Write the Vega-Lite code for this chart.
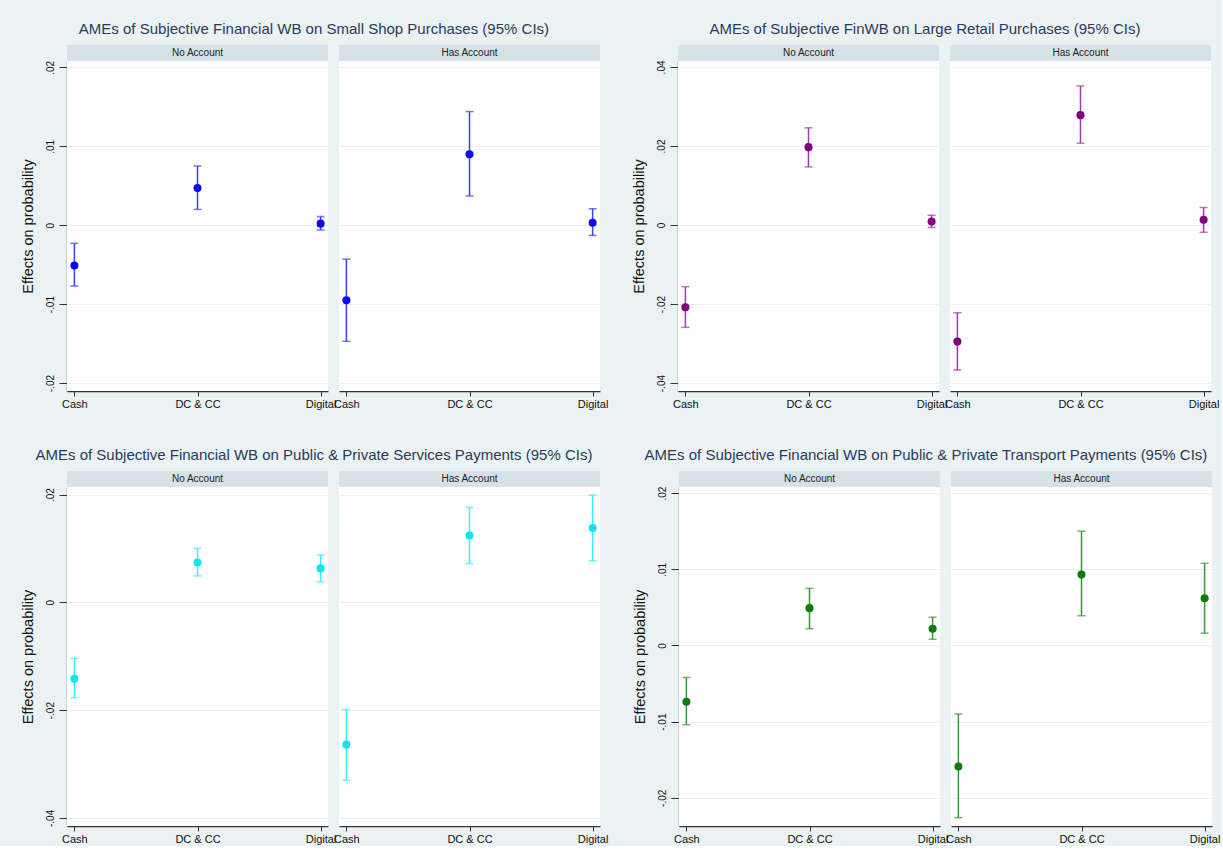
{
  "$schema": "https://vega.github.io/schema/vega-lite/v6.json",
  "padding": {"left": 20, "top": 21, "right": 2, "bottom": 2},
  "datasets": {
    "ames": [
      {"graph": "shop", "account": "No Account", "cat": "Cash", "est": -0.0051, "lo": -0.0077, "hi": -0.0023},
      {"graph": "shop", "account": "No Account", "cat": "DC & CC", "est": 0.0047, "lo": 0.0020, "hi": 0.0075},
      {"graph": "shop", "account": "No Account", "cat": "Digital", "est": 0.0002, "lo": -0.0006, "hi": 0.0011},
      {"graph": "shop", "account": "Has Account", "cat": "Cash", "est": -0.0095, "lo": -0.0147, "hi": -0.0043},
      {"graph": "shop", "account": "Has Account", "cat": "DC & CC", "est": 0.0090, "lo": 0.0037, "hi": 0.0144},
      {"graph": "shop", "account": "Has Account", "cat": "Digital", "est": 0.0003, "lo": -0.0013, "hi": 0.0021},
      {"graph": "retail", "account": "No Account", "cat": "Cash", "est": -0.0208, "lo": -0.0259, "hi": -0.0156},
      {"graph": "retail", "account": "No Account", "cat": "DC & CC", "est": 0.0197, "lo": 0.0147, "hi": 0.0246},
      {"graph": "retail", "account": "No Account", "cat": "Digital", "est": 0.0009, "lo": -0.0006, "hi": 0.0025},
      {"graph": "retail", "account": "Has Account", "cat": "Cash", "est": -0.0295, "lo": -0.0367, "hi": -0.0222},
      {"graph": "retail", "account": "Has Account", "cat": "DC & CC", "est": 0.0278, "lo": 0.0207, "hi": 0.0352},
      {"graph": "retail", "account": "Has Account", "cat": "Digital", "est": 0.0013, "lo": -0.0018, "hi": 0.0044},
      {"graph": "services", "account": "No Account", "cat": "Cash", "est": -0.0142, "lo": -0.0177, "hi": -0.0104},
      {"graph": "services", "account": "No Account", "cat": "DC & CC", "est": 0.0074, "lo": 0.0049, "hi": 0.0100},
      {"graph": "services", "account": "No Account", "cat": "Digital", "est": 0.0063, "lo": 0.0038, "hi": 0.0088},
      {"graph": "services", "account": "Has Account", "cat": "Cash", "est": -0.0264, "lo": -0.0330, "hi": -0.0199},
      {"graph": "services", "account": "Has Account", "cat": "DC & CC", "est": 0.0124, "lo": 0.0072, "hi": 0.0176},
      {"graph": "services", "account": "Has Account", "cat": "Digital", "est": 0.0138, "lo": 0.0077, "hi": 0.0199},
      {"graph": "transport", "account": "No Account", "cat": "Cash", "est": -0.0074, "lo": -0.0104, "hi": -0.0042},
      {"graph": "transport", "account": "No Account", "cat": "DC & CC", "est": 0.0049, "lo": 0.0022, "hi": 0.0075},
      {"graph": "transport", "account": "No Account", "cat": "Digital", "est": 0.0022, "lo": 0.0008, "hi": 0.0037},
      {"graph": "transport", "account": "Has Account", "cat": "Cash", "est": -0.0159, "lo": -0.0226, "hi": -0.0090},
      {"graph": "transport", "account": "Has Account", "cat": "DC & CC", "est": 0.0093, "lo": 0.0039, "hi": 0.0150},
      {"graph": "transport", "account": "Has Account", "cat": "Digital", "est": 0.0062, "lo": 0.0016, "hi": 0.0108}
    ]
  },
  "vconcat": [
    {
      "hconcat": [
        {
          "title": {"text": "AMEs of Subjective Financial WB on Small Shop Purchases (95% CIs)"},
          "data": {"name": "ames"},
          "transform": [{"filter": "datum.graph == 'shop'"}],
          "facet": {"column": {"field": "account", "type": "nominal", "sort": ["No Account", "Has Account"], "title": null, "header": {"labels": false, "title": null}}},
          "spacing": 11,
          "spec": {
            "width": 261,
            "height": 346,
            "layer": [
              {
                "transform": [{"filter": "datum.cat == 'DC & CC'"}],
                "mark": {"type": "rect", "fill": "#d7e2e8"},
                "encoding": {"y": {"datum": 0.02283, "type": "quantitative", "title": "Effects on probability"}, "y2": {"datum": 0.0208}}
              },
              {
                "transform": [{"filter": "datum.cat == 'DC & CC'"}],
                "mark": {"type": "text", "fontSize": 10, "color": "#222222"},
                "encoding": {
                  "x": {"field": "cat", "type": "nominal", "sort": ["Cash", "DC & CC", "Digital"], "scale": {"type": "point", "padding": 0.06}, "axis": {"title": null, "labelAngle": 0, "grid": false}},
                  "y": {"datum": 0.02181, "type": "quantitative", "title": "Effects on probability"},
                  "text": {"field": "account"}
                }
              },
              {
                "mark": {"type": "rule", "color": "#3f3ff8", "strokeWidth": 1.5},
                "encoding": {
                  "x": {"field": "cat", "type": "nominal", "sort": ["Cash", "DC & CC", "Digital"], "scale": {"type": "point", "padding": 0.06}, "axis": {"title": null, "labelAngle": 0, "grid": false}},
                  "y": {"field": "lo", "type": "quantitative", "title": "Effects on probability"},
                  "y2": {"field": "hi"}
                }
              },
              {
                "mark": {"type": "tick", "color": "#3f3ff8", "size": 8, "thickness": 1.5},
                "encoding": {
                  "x": {"field": "cat", "type": "nominal", "sort": ["Cash", "DC & CC", "Digital"], "scale": {"type": "point", "padding": 0.06}, "axis": {"title": null, "labelAngle": 0, "grid": false}},
                  "y": {"field": "lo", "type": "quantitative", "title": "Effects on probability"}
                }
              },
              {
                "mark": {"type": "tick", "color": "#3f3ff8", "size": 8, "thickness": 1.5},
                "encoding": {
                  "x": {"field": "cat", "type": "nominal", "sort": ["Cash", "DC & CC", "Digital"], "scale": {"type": "point", "padding": 0.06}, "axis": {"title": null, "labelAngle": 0, "grid": false}},
                  "y": {"field": "hi", "type": "quantitative", "title": "Effects on probability"}
                }
              },
              {
                "mark": {"type": "point", "filled": true, "color": "#0b0bf5", "size": 65, "opacity": 1},
                "encoding": {
                  "x": {"field": "cat", "type": "nominal", "sort": ["Cash", "DC & CC", "Digital"], "scale": {"type": "point", "padding": 0.06}, "axis": {"title": null, "labelAngle": 0, "grid": false}},
                  "y": {
                    "field": "est", "type": "quantitative", "title": "Effects on probability",
                    "scale": {"domain": [-0.021, 0.0208], "range": [346, 16], "nice": false, "zero": false},
                    "axis": {"values": [-0.02, -0.01, 0, 0.01, 0.02], "grid": true, "labelAngle": 270, "labelExpr": "datum.value == 0 ? '0' : (datum.value < 0 ? '-' : '') + replace(format(abs(datum.value), '.2f'), '0.', '.')"}
                  }
                }
              }
            ]
          }
        },
        {
          "title": {"text": "AMEs of Subjective FinWB on Large Retail Purchases (95% CIs)"},
          "data": {"name": "ames"},
          "transform": [{"filter": "datum.graph == 'retail'"}],
          "facet": {"column": {"field": "account", "type": "nominal", "sort": ["No Account", "Has Account"], "title": null, "header": {"labels": false, "title": null}}},
          "spacing": 11,
          "spec": {
            "width": 261,
            "height": 346,
            "layer": [
              {
                "transform": [{"filter": "datum.cat == 'DC & CC'"}],
                "mark": {"type": "rect", "fill": "#d7e2e8"},
                "encoding": {"y": {"datum": 0.04555, "type": "quantitative", "title": "Effects on probability"}, "y2": {"datum": 0.0415}}
              },
              {
                "transform": [{"filter": "datum.cat == 'DC & CC'"}],
                "mark": {"type": "text", "fontSize": 10, "color": "#222222"},
                "encoding": {
                  "x": {"field": "cat", "type": "nominal", "sort": ["Cash", "DC & CC", "Digital"], "scale": {"type": "point", "padding": 0.06}, "axis": {"title": null, "labelAngle": 0, "grid": false}},
                  "y": {"datum": 0.04352, "type": "quantitative", "title": "Effects on probability"},
                  "text": {"field": "account"}
                }
              },
              {
                "mark": {"type": "rule", "color": "#a23ca2", "strokeWidth": 1.5},
                "encoding": {
                  "x": {"field": "cat", "type": "nominal", "sort": ["Cash", "DC & CC", "Digital"], "scale": {"type": "point", "padding": 0.06}, "axis": {"title": null, "labelAngle": 0, "grid": false}},
                  "y": {"field": "lo", "type": "quantitative", "title": "Effects on probability"},
                  "y2": {"field": "hi"}
                }
              },
              {
                "mark": {"type": "tick", "color": "#a23ca2", "size": 8, "thickness": 1.5},
                "encoding": {
                  "x": {"field": "cat", "type": "nominal", "sort": ["Cash", "DC & CC", "Digital"], "scale": {"type": "point", "padding": 0.06}, "axis": {"title": null, "labelAngle": 0, "grid": false}},
                  "y": {"field": "lo", "type": "quantitative", "title": "Effects on probability"}
                }
              },
              {
                "mark": {"type": "tick", "color": "#a23ca2", "size": 8, "thickness": 1.5},
                "encoding": {
                  "x": {"field": "cat", "type": "nominal", "sort": ["Cash", "DC & CC", "Digital"], "scale": {"type": "point", "padding": 0.06}, "axis": {"title": null, "labelAngle": 0, "grid": false}},
                  "y": {"field": "hi", "type": "quantitative", "title": "Effects on probability"}
                }
              },
              {
                "mark": {"type": "point", "filled": true, "color": "#800080", "size": 65, "opacity": 1},
                "encoding": {
                  "x": {"field": "cat", "type": "nominal", "sort": ["Cash", "DC & CC", "Digital"], "scale": {"type": "point", "padding": 0.06}, "axis": {"title": null, "labelAngle": 0, "grid": false}},
                  "y": {
                    "field": "est", "type": "quantitative", "title": "Effects on probability",
                    "scale": {"domain": [-0.042, 0.0415], "range": [346, 16], "nice": false, "zero": false},
                    "axis": {"values": [-0.04, -0.02, 0, 0.02, 0.04], "grid": true, "labelAngle": 270, "labelExpr": "datum.value == 0 ? '0' : (datum.value < 0 ? '-' : '') + replace(format(abs(datum.value), '.2f'), '0.', '.')"}
                  }
                }
              }
            ]
          }
        }
      ],
      "spacing": 23
    },
    {
      "hconcat": [
        {
          "title": {"text": "AMEs of Subjective Financial WB on Public & Private Services Payments (95% CIs)"},
          "data": {"name": "ames"},
          "transform": [{"filter": "datum.graph == 'services'"}],
          "facet": {"column": {"field": "account", "type": "nominal", "sort": ["No Account", "Has Account"], "title": null, "header": {"labels": false, "title": null}}},
          "spacing": 11,
          "spec": {
            "width": 261,
            "height": 355,
            "layer": [
              {
                "transform": [{"filter": "datum.cat == 'DC & CC'"}],
                "mark": {"type": "rect", "fill": "#d7e2e8"},
                "encoding": {"y": {"datum": 0.02437, "type": "quantitative", "title": "Effects on probability"}, "y2": {"datum": 0.0214}}
              },
              {
                "transform": [{"filter": "datum.cat == 'DC & CC'"}],
                "mark": {"type": "text", "fontSize": 10, "color": "#222222"},
                "encoding": {
                  "x": {"field": "cat", "type": "nominal", "sort": ["Cash", "DC & CC", "Digital"], "scale": {"type": "point", "padding": 0.06}, "axis": {"title": null, "labelAngle": 0, "grid": false}},
                  "y": {"datum": 0.02288, "type": "quantitative", "title": "Effects on probability"},
                  "text": {"field": "account"}
                }
              },
              {
                "mark": {"type": "rule", "color": "#3ceef8", "strokeWidth": 1.5},
                "encoding": {
                  "x": {"field": "cat", "type": "nominal", "sort": ["Cash", "DC & CC", "Digital"], "scale": {"type": "point", "padding": 0.06}, "axis": {"title": null, "labelAngle": 0, "grid": false}},
                  "y": {"field": "lo", "type": "quantitative", "title": "Effects on probability"},
                  "y2": {"field": "hi"}
                }
              },
              {
                "mark": {"type": "tick", "color": "#3ceef8", "size": 8, "thickness": 1.5},
                "encoding": {
                  "x": {"field": "cat", "type": "nominal", "sort": ["Cash", "DC & CC", "Digital"], "scale": {"type": "point", "padding": 0.06}, "axis": {"title": null, "labelAngle": 0, "grid": false}},
                  "y": {"field": "lo", "type": "quantitative", "title": "Effects on probability"}
                }
              },
              {
                "mark": {"type": "tick", "color": "#3ceef8", "size": 8, "thickness": 1.5},
                "encoding": {
                  "x": {"field": "cat", "type": "nominal", "sort": ["Cash", "DC & CC", "Digital"], "scale": {"type": "point", "padding": 0.06}, "axis": {"title": null, "labelAngle": 0, "grid": false}},
                  "y": {"field": "hi", "type": "quantitative", "title": "Effects on probability"}
                }
              },
              {
                "mark": {"type": "point", "filled": true, "color": "#10e4f0", "size": 65, "opacity": 1},
                "encoding": {
                  "x": {"field": "cat", "type": "nominal", "sort": ["Cash", "DC & CC", "Digital"], "scale": {"type": "point", "padding": 0.06}, "axis": {"title": null, "labelAngle": 0, "grid": false}},
                  "y": {
                    "field": "est", "type": "quantitative", "title": "Effects on probability",
                    "scale": {"domain": [-0.0415, 0.0214], "range": [355, 16], "nice": false, "zero": false},
                    "axis": {"values": [-0.04, -0.02, 0, 0.02], "grid": true, "labelAngle": 270, "labelExpr": "datum.value == 0 ? '0' : (datum.value < 0 ? '-' : '') + replace(format(abs(datum.value), '.2f'), '0.', '.')"}
                  }
                }
              }
            ]
          }
        },
        {
          "title": {"text": "AMEs of Subjective Financial WB on Public & Private Transport Payments (95% CIs)"},
          "data": {"name": "ames"},
          "transform": [{"filter": "datum.graph == 'transport'"}],
          "facet": {"column": {"field": "account", "type": "nominal", "sort": ["No Account", "Has Account"], "title": null, "header": {"labels": false, "title": null}}},
          "spacing": 11,
          "spec": {
            "width": 261,
            "height": 355,
            "layer": [
              {
                "transform": [{"filter": "datum.cat == 'DC & CC'"}],
                "mark": {"type": "rect", "fill": "#d7e2e8"},
                "encoding": {"y": {"datum": 0.0229, "type": "quantitative", "title": "Effects on probability"}, "y2": {"datum": 0.0208}}
              },
              {
                "transform": [{"filter": "datum.cat == 'DC & CC'"}],
                "mark": {"type": "text", "fontSize": 10, "color": "#222222"},
                "encoding": {
                  "x": {"field": "cat", "type": "nominal", "sort": ["Cash", "DC & CC", "Digital"], "scale": {"type": "point", "padding": 0.06}, "axis": {"title": null, "labelAngle": 0, "grid": false}},
                  "y": {"datum": 0.02185, "type": "quantitative", "title": "Effects on probability"},
                  "text": {"field": "account"}
                }
              },
              {
                "mark": {"type": "rule", "color": "#3c963c", "strokeWidth": 1.5},
                "encoding": {
                  "x": {"field": "cat", "type": "nominal", "sort": ["Cash", "DC & CC", "Digital"], "scale": {"type": "point", "padding": 0.06}, "axis": {"title": null, "labelAngle": 0, "grid": false}},
                  "y": {"field": "lo", "type": "quantitative", "title": "Effects on probability"},
                  "y2": {"field": "hi"}
                }
              },
              {
                "mark": {"type": "tick", "color": "#3c963c", "size": 8, "thickness": 1.5},
                "encoding": {
                  "x": {"field": "cat", "type": "nominal", "sort": ["Cash", "DC & CC", "Digital"], "scale": {"type": "point", "padding": 0.06}, "axis": {"title": null, "labelAngle": 0, "grid": false}},
                  "y": {"field": "lo", "type": "quantitative", "title": "Effects on probability"}
                }
              },
              {
                "mark": {"type": "tick", "color": "#3c963c", "size": 8, "thickness": 1.5},
                "encoding": {
                  "x": {"field": "cat", "type": "nominal", "sort": ["Cash", "DC & CC", "Digital"], "scale": {"type": "point", "padding": 0.06}, "axis": {"title": null, "labelAngle": 0, "grid": false}},
                  "y": {"field": "hi", "type": "quantitative", "title": "Effects on probability"}
                }
              },
              {
                "mark": {"type": "point", "filled": true, "color": "#0a7d0a", "size": 65, "opacity": 1},
                "encoding": {
                  "x": {"field": "cat", "type": "nominal", "sort": ["Cash", "DC & CC", "Digital"], "scale": {"type": "point", "padding": 0.06}, "axis": {"title": null, "labelAngle": 0, "grid": false}},
                  "y": {
                    "field": "est", "type": "quantitative", "title": "Effects on probability",
                    "scale": {"domain": [-0.0237, 0.0208], "range": [355, 16], "nice": false, "zero": false},
                    "axis": {"values": [-0.02, -0.01, 0, 0.01, 0.02], "grid": true, "labelAngle": 270, "labelExpr": "datum.value == 0 ? '0' : (datum.value < 0 ? '-' : '') + replace(format(abs(datum.value), '.2f'), '0.', '.')"}
                  }
                }
              }
            ]
          }
        }
      ],
      "spacing": 23
    }
  ],
  "spacing": 38,
  "config": {
    "background": "#eaf2f3",
    "font": "Liberation Sans",
    "view": {"stroke": null, "fill": "#ffffff"},
    "axis": {
      "domainColor": "#333333",
      "domainWidth": 1.3,
      "tickColor": "#333333",
      "tickSize": 8,
      "labelPadding": 4,
      "labelColor": "#111111",
      "labelFontSize": 10,
      "titleColor": "#111111",
      "titleFontSize": 14.5,
      "titleFontWeight": "normal",
      "titlePadding": 10,
      "gridColor": "#eaf2f3",
      "gridWidth": 1
    },
    "axisX": {"labelFontSize": 11, "labelPadding": 2, "tickSize": 5},
    "title": {"fontSize": 15, "fontWeight": "normal", "color": "#2b3a5c", "anchor": "middle", "frame": "bounds", "offset": 8},
    "header": {"labelPadding": 0, "titlePadding": 0}
  }
}
